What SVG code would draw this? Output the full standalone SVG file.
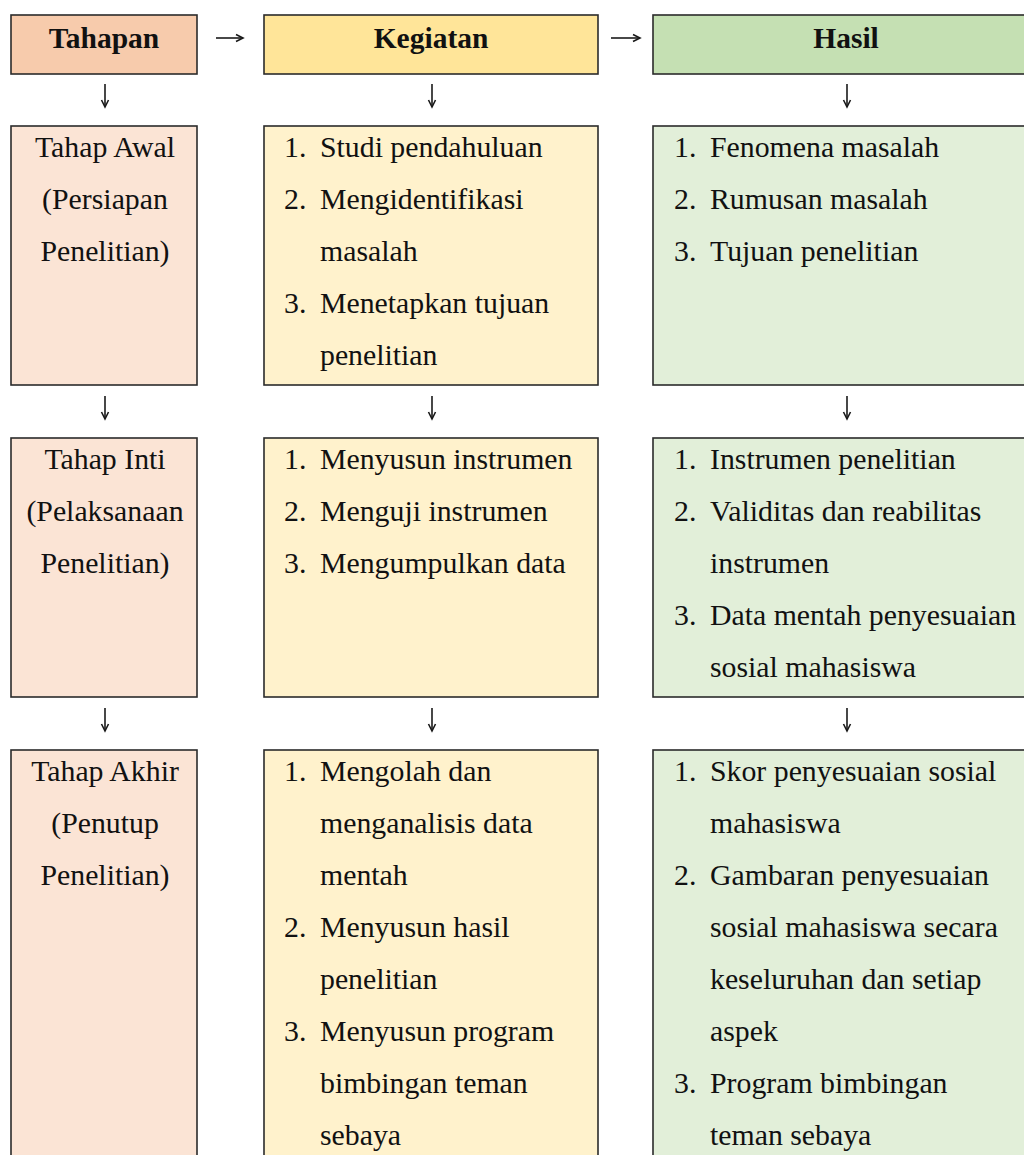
<svg xmlns="http://www.w3.org/2000/svg" width="1024" height="1155" viewBox="0 0 1024 1155">
<style>
.box{stroke:#2b2b2b;stroke-width:1.6}
.h1{fill:#F7CBAC}.h2{fill:#FFE599}.h3{fill:#C5E0B3}
.b1{fill:#FBE4D5}.b2{fill:#FFF2CC}.b3{fill:#E2EFD9}
text{font-family:"Liberation Serif","Times New Roman",serif;font-size:29.8px;fill:#111}
.hd{font-weight:bold;text-anchor:middle;font-size:29.5px}
.c{text-anchor:middle}
.conn{stroke:#1a1a1a;stroke-width:1.6;fill:none}
</style>
<defs>
<marker id="ah" markerWidth="10" markerHeight="10" refX="8" refY="5" orient="auto" markerUnits="userSpaceOnUse">
<path d="M1,1.5 L8,5 L1,8.5" fill="none" stroke="#1a1a1a" stroke-width="1.6"/>
</marker>
</defs>
<rect width="1024" height="1155" fill="#fff"/>
<g id="connectors">
<path class="conn" d="M216,38 H243" marker-end="url(#ah)"/>
<path class="conn" d="M611,38 H640" marker-end="url(#ah)"/>
<path class="conn" d="M105,84 V107" marker-end="url(#ah)"/>
<path class="conn" d="M432,84 V107" marker-end="url(#ah)"/>
<path class="conn" d="M847,84 V107" marker-end="url(#ah)"/>
<path class="conn" d="M105,396 V419" marker-end="url(#ah)"/>
<path class="conn" d="M432,396 V419" marker-end="url(#ah)"/>
<path class="conn" d="M847,396 V419" marker-end="url(#ah)"/>
<path class="conn" d="M105,708 V731" marker-end="url(#ah)"/>
<path class="conn" d="M432,708 V731" marker-end="url(#ah)"/>
<path class="conn" d="M847,708 V731" marker-end="url(#ah)"/>
</g>
<g id="hdr-tahapan"><rect class="box h1" x="11" y="15" width="186" height="59"/><text class="hd" x="104" y="48">Tahapan</text></g>
<g id="hdr-kegiatan"><rect class="box h2" x="264" y="15" width="334" height="59"/><text class="hd" x="431" y="48">Kegiatan</text></g>
<g id="hdr-hasil"><rect class="box h3" x="653" y="15" width="380" height="59"/><text class="hd" x="846" y="48">Hasil</text></g>

<g id="tahap-awal"><rect class="box b1" x="11" y="126" width="186" height="259"/>
<text class="c" x="105" y="157">Tahap Awal</text>
<text class="c" x="105" y="209">(Persiapan</text>
<text class="c" x="105" y="261">Penelitian)</text></g>
<g id="kegiatan-awal"><rect class="box b2" x="264" y="126" width="334" height="259"/>
<text x="284" y="157">1.</text><text x="320" y="157">Studi pendahuluan</text>
<text x="284" y="209">2.</text><text x="320" y="209">Mengidentifikasi</text>
<text x="320" y="261">masalah</text>
<text x="284" y="313">3.</text><text x="320" y="313">Menetapkan tujuan</text>
<text x="320" y="365">penelitian</text></g>
<g id="hasil-awal"><rect class="box b3" x="653" y="126" width="380" height="259"/>
<text x="674" y="157">1.</text><text x="710" y="157">Fenomena masalah</text>
<text x="674" y="209">2.</text><text x="710" y="209">Rumusan masalah</text>
<text x="674" y="261">3.</text><text x="710" y="261">Tujuan penelitian</text></g>

<g id="tahap-inti"><rect class="box b1" x="11" y="438" width="186" height="259"/>
<text class="c" x="105" y="469">Tahap Inti</text>
<text class="c" x="105" y="521">(Pelaksanaan</text>
<text class="c" x="105" y="573">Penelitian)</text></g>
<g id="kegiatan-inti"><rect class="box b2" x="264" y="438" width="334" height="259"/>
<text x="284" y="469">1.</text><text x="320" y="469">Menyusun instrumen</text>
<text x="284" y="521">2.</text><text x="320" y="521">Menguji instrumen</text>
<text x="284" y="573">3.</text><text x="320" y="573">Mengumpulkan data</text></g>
<g id="hasil-inti"><rect class="box b3" x="653" y="438" width="380" height="259"/>
<text x="674" y="469">1.</text><text x="710" y="469">Instrumen penelitian</text>
<text x="674" y="521">2.</text><text x="710" y="521">Validitas dan reabilitas</text>
<text x="710" y="573">instrumen</text>
<text x="674" y="625">3.</text><text x="710" y="625">Data mentah penyesuaian</text>
<text x="710" y="677">sosial mahasiswa</text></g>

<g id="tahap-akhir"><rect class="box b1" x="11" y="750" width="186" height="420"/>
<text class="c" x="105" y="781">Tahap Akhir</text>
<text class="c" x="105" y="833">(Penutup</text>
<text class="c" x="105" y="885">Penelitian)</text></g>
<g id="kegiatan-akhir"><rect class="box b2" x="264" y="750" width="334" height="420"/>
<text x="284" y="781">1.</text><text x="320" y="781">Mengolah dan</text>
<text x="320" y="833">menganalisis data</text>
<text x="320" y="885">mentah</text>
<text x="284" y="937">2.</text><text x="320" y="937">Menyusun hasil</text>
<text x="320" y="989">penelitian</text>
<text x="284" y="1041">3.</text><text x="320" y="1041">Menyusun program</text>
<text x="320" y="1093">bimbingan teman</text>
<text x="320" y="1145">sebaya</text></g>
<g id="hasil-akhir"><rect class="box b3" x="653" y="750" width="380" height="420"/>
<text x="674" y="781">1.</text><text x="710" y="781">Skor penyesuaian sosial</text>
<text x="710" y="833">mahasiswa</text>
<text x="674" y="885">2.</text><text x="710" y="885">Gambaran penyesuaian</text>
<text x="710" y="937">sosial mahasiswa secara</text>
<text x="710" y="989">keseluruhan dan setiap</text>
<text x="710" y="1041">aspek</text>
<text x="674" y="1093">3.</text><text x="710" y="1093">Program bimbingan</text>
<text x="710" y="1145">teman sebaya</text></g>
</svg>
